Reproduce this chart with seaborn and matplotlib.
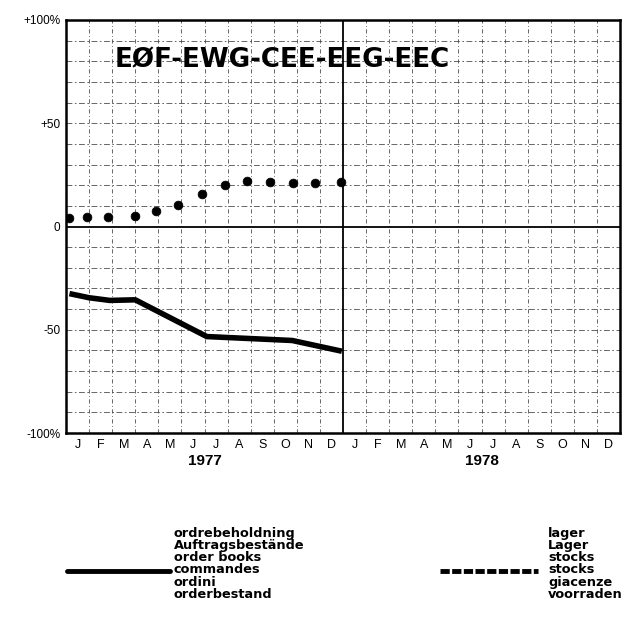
import numpy as np
import pandas as pd
import matplotlib.pyplot as plt
import seaborn as sns
from matplotlib.lines import Line2D

# --- Dados (posição em meses desde jan/1977, valor em %) ---
order_x = [0.15, 1.0, 1.9, 3.0, 6.1, 9.8, 11.95]
order_y = [-32.5, -34.5, -35.8, -35.5, -53.3, -55.2, -60.4]

stock_x = [0.14, 0.92, 1.83, 2.99, 3.92, 4.86, 5.88, 6.9, 7.82, 8.83, 9.84, 10.8, 11.9]
stock_y = [4.0, 4.5, 4.8, 5.3, 7.7, 10.5, 15.9, 19.9, 21.9, 21.4, 21.0, 21.2, 21.4]

months = ['J', 'F', 'M', 'A', 'M', 'J', 'J', 'A', 'S', 'O', 'N', 'D',
          'J', 'F', 'M', 'A', 'M', 'J', 'J', 'A', 'S', 'O', 'N', 'D']
years = ['1977', '1978']
ytick_vals = [100, 50, 0, -50, -100]
ytick_labels = ['+100%', '+50', '0', '-50', '-100%']

title = 'EØF-EWG-CEE-EEG-EEC'
legend_orders = ['ordrebeholdning', 'Auftragsbestände', 'order books',
                 'commandes', 'ordini', 'orderbestand']
legend_stocks = ['lager', 'Lager', 'stocks', 'stocks', 'giacenze', 'voorraden']

df_orders = pd.DataFrame({'mes': order_x, 'valor': order_y})
df_stocks = pd.DataFrame({'mes': stock_x, 'valor': stock_y})

sns.set_style("white")
plt.rcParams['font.family'] = ['Liberation Sans', 'DejaVu Sans']
plt.rcParams['text.color'] = 'black'
plt.rcParams['xtick.color'] = 'black'
plt.rcParams['ytick.color'] = 'black'

fig = plt.figure(figsize=(6.27, 6.22), dpi=100)
ax = fig.add_axes([66 / 627, 1 - 433 / 622, 554 / 627, 413 / 622])

# grade tracejada (meses e passos de 10 %)
for xv in range(1, 24):
    if xv == 12:
        continue
    ax.axvline(xv, color='0.3', lw=0.6, ls=(0, (5, 3, 1, 3)), zorder=0)
for yv in range(-90, 100, 10):
    if yv == 0:
        continue
    ax.axhline(yv, color='0.3', lw=0.6, ls=(0, (7, 3, 2, 3)), zorder=0)
ax.axhline(0, color='black', lw=1.3, zorder=1)
ax.axvline(12, color='black', lw=1.3, zorder=1)

sns.lineplot(data=df_orders, x='mes', y='valor', ax=ax, color='black',
             lw=4, solid_joinstyle='round', solid_capstyle='butt', zorder=3)
sns.scatterplot(data=df_stocks, x='mes', y='valor', ax=ax, color='black',
                s=40, edgecolor='black', zorder=3)

ax.set_xlim(0, 24)
ax.set_ylim(-100, 100)
ax.set_xlabel('')
ax.set_ylabel('')
ax.set_xticks(np.arange(24) + 0.5)
ax.set_xticklabels(months, fontsize=9)
ax.set_yticks(ytick_vals)
ax.set_yticklabels(ytick_labels, fontsize=8.5)
ax.tick_params(length=0, pad=4)
for s in ax.spines.values():
    s.set_color('black')
    s.set_linewidth(1.8)

for i, yr in enumerate(years):
    ax.text(6 + 12 * i, -113.5, yr, ha='center', va='center',
            fontsize=11, fontweight='bold', clip_on=False)

ax.text(9.35, 80.6, title, ha='center', va='center', fontsize=18.8,
        fontweight='bold', family='DejaVu Sans', color='black', zorder=4)

# legenda manual
row0 = 533
for i, t in enumerate(legend_orders):
    fig.text(174 / 627, 1 - (row0 + 12.3 * i) / 622, t, fontsize=9.3,
             fontweight='bold', family='DejaVu Sans', va='center', ha='left')
for i, t in enumerate(legend_stocks):
    fig.text(548 / 627, 1 - (row0 + 12.3 * i) / 622, t, fontsize=9.3,
             fontweight='bold', family='DejaVu Sans', va='center', ha='left')
yl = 1 - 571 / 622
fig.add_artist(Line2D([67 / 627, 170 / 627], [yl, yl], color='black', lw=3.5))
fig.add_artist(Line2D([440 / 627, 538 / 627], [yl, yl], color='black', lw=3.5,
                      ls=(0, (1.9, 0.5))))

plt.savefig('out.png', dpi=100)
